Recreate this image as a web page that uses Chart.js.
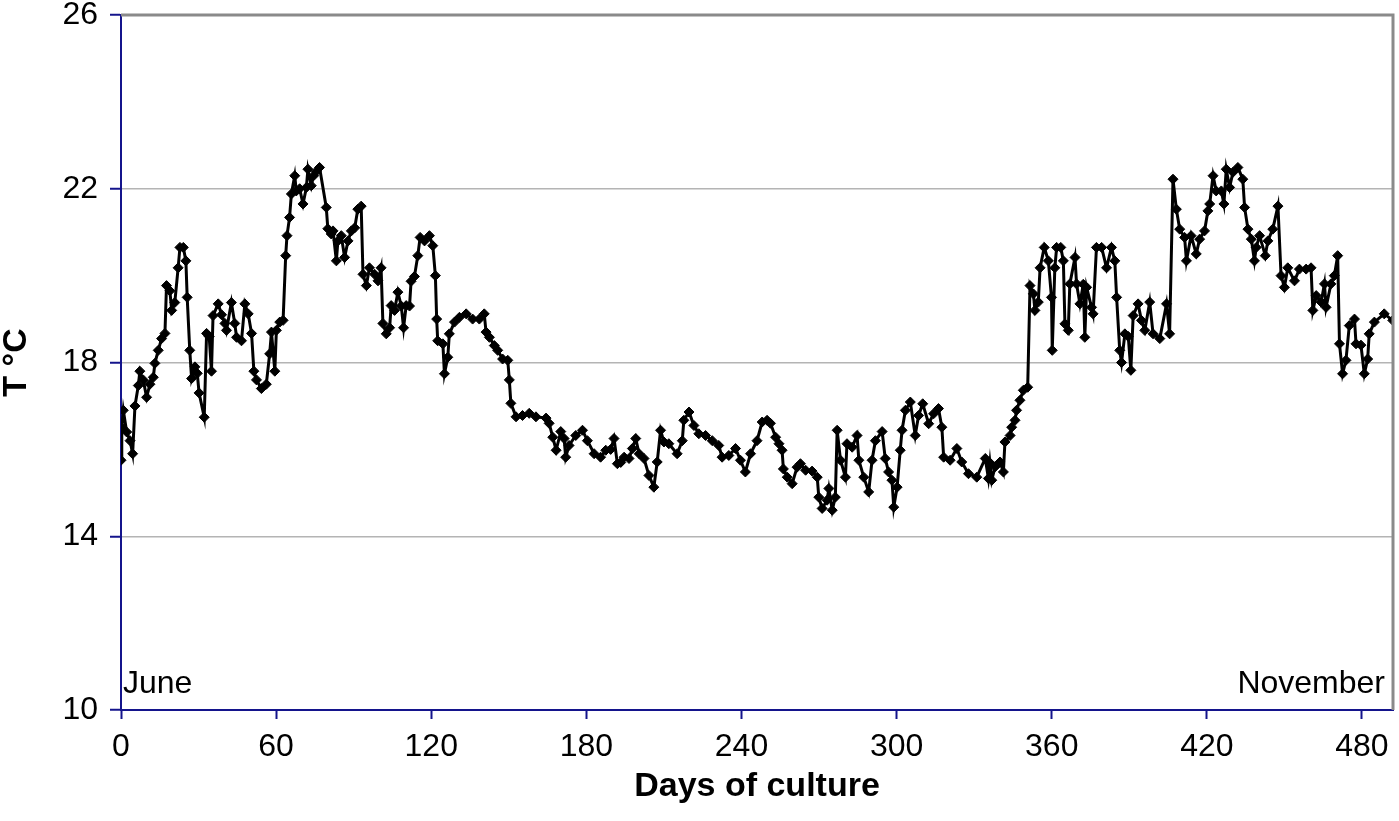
<!DOCTYPE html>
<html>
<head>
<meta charset="utf-8">
<script src="https://cdn.jsdelivr.net/npm/chart.js@4.4.1/dist/chart.umd.min.js"></script>
<style>
  html, body { margin: 0; padding: 0; background: #fff; }
  #wrap { width: 1399px; height: 821px; }
</style>
</head>
<body>
<div id="wrap"><canvas id="tempChart" width="1399" height="821"></canvas></div>
<script>
// days of culture (x) and water temperature in °C (y)
const days = [
  0, 0.3, 0.9, 2.2, 3.5, 4.5, 5.4, 6.7, 7.3, 8.6, 9.9, 11.2, 12.5, 13.1, 14.4, 15.7, 17.0, 17.6, 18.9, 19.6,
  20.8, 22.1, 22.8, 24.1, 25.1, 25.6, 26.6, 27.3, 28.6, 29.5, 30.2, 32.2, 33.1, 34.1, 35.0, 35.6, 37.6, 38.9, 40.2, 40.8,
  42.7, 44.0, 44.7, 46.6, 47.9, 49.2, 50.5, 51.4, 52.4, 54.3, 56.2, 57.5, 58.2, 59.5, 60.1, 61.4, 62.7, 63.7, 64.2, 65.2,
  65.9, 67.2, 67.8, 69.1, 70.4, 71.7, 72.3, 73.6, 74.5, 75.5, 76.8, 79.4, 80.0, 81.3, 82.0, 83.3, 83.9, 85.2, 86.5, 87.8,
  89.1, 90.4, 91.6, 92.9, 93.6, 94.9, 96.1, 98.1, 99.4, 100.6, 101.3, 102.6, 103.9, 104.5, 105.8, 107.1, 108.4, 109.3, 110.3, 111.6,
  112.2, 113.5, 114.8, 115.7, 117.4, 119.3, 120.6, 121.6, 122.1, 122.5, 124.5, 125.1, 126.4, 127.0, 129.0, 130.9, 133.5, 136.0, 138.6, 140.5,
  141.2, 142.5, 144.4, 145.7, 147.6, 149.6, 150.2, 150.8, 152.8, 155.3, 157.9, 160.5, 164.4, 165.6, 167.0, 168.3, 170.1, 171.4, 172.0, 173.3,
  175.9, 178.5, 180.4, 183.0, 185.5, 187.5, 189.4, 190.7, 192.0, 193.3, 194.6, 196.5, 197.8, 199.1, 200.4, 202.3, 204.2, 206.1, 207.4, 208.7,
  210.0, 211.9, 215.1, 217.1, 217.7, 219.7, 221.6, 223.5, 226.1, 228.7, 231.2, 232.5, 235.1, 237.7, 239.6, 241.5, 243.5, 246.0, 248.0, 249.9,
  251.2, 253.2, 254.5, 255.7, 256.2, 257.7, 259.6, 261.5, 262.8, 264.8, 267.3, 269.3, 269.9, 271.2, 273.1, 273.8, 275.1, 276.3, 277.0, 278.3,
  280.2, 280.8, 282.8, 284.7, 285.4, 287.3, 289.2, 290.5, 291.8, 294.4, 295.6, 296.9, 298.2, 298.9, 300.2, 301.4, 302.1, 303.4, 305.3, 307.2,
  308.5, 310.1, 312.4, 314.3, 316.2, 317.5, 318.2, 320.7, 323.3, 325.2, 327.8, 331.0, 334.3, 335.5, 336.1, 336.8, 338.1, 340.0, 341.3, 341.9,
  343.9, 344.5, 345.8, 346.4, 347.7, 349.0, 350.7, 351.6, 352.9, 353.5, 354.8, 355.5, 357.1, 358.7, 359.9, 360.2, 361.2, 361.9, 363.5, 364.5,
  365.1, 366.4, 367.0, 369.0, 369.6, 370.9, 372.2, 372.8, 373.5, 375.4, 376.0, 377.3, 379.3, 381.2, 383.1, 384.4, 385.1, 386.3, 387.0, 388.3,
  389.6, 390.6, 391.5, 393.4, 394.7, 396.0, 397.9, 399.2, 401.8, 404.4, 405.6, 406.9, 408.2, 409.5, 411.4, 412.1, 413.9, 415.9, 417.2, 419.1,
  420.4, 421.1, 422.4, 423.6, 425.6, 426.6, 427.5, 428.8, 430.1, 432.0, 433.9, 434.6, 435.9, 437.2, 438.4, 439.1, 440.4, 442.6, 443.6, 445.5,
  447.5, 448.7, 450.0, 451.3, 453.9, 455.8, 458.4, 460.3, 461.0, 462.3, 464.2, 465.5, 466.1, 468.0, 469.3, 470.6, 471.3, 472.5, 473.8, 475.1,
  477.1, 477.7, 479.6, 480.9, 482.2, 482.8, 484.8, 488.6, 491.9
];
const temps = [
  15.75, 16.5, 16.9, 16.4, 16.2, 15.9, 17.0, 17.47, 17.8, 17.6, 17.2, 17.5, 17.66, 17.98, 18.28, 18.55, 18.67, 19.77, 19.65, 19.2,
  19.38, 20.18, 20.65, 20.65, 20.34, 19.5, 18.28, 17.63, 17.9, 17.75, 17.3, 16.74, 18.67, 18.6, 17.8, 19.08, 19.35, 19.1, 18.9, 18.74,
  19.38, 18.9, 18.58, 18.5, 19.35, 19.12, 18.67, 17.8, 17.6, 17.4, 17.5, 18.2, 18.7, 17.8, 18.74, 18.93, 18.97, 20.46, 20.92, 21.34,
  21.88, 22.3, 21.95, 22.0, 21.65, 22.03, 22.45, 22.07, 22.3, 22.4, 22.49, 21.57, 21.08, 20.96, 21.03, 20.34, 20.8, 20.92, 20.42, 20.8,
  21.03, 21.1, 21.53, 21.6, 20.03, 19.77, 20.18, 20.03, 19.88, 20.18, 18.9, 18.66, 18.8, 19.31, 19.2, 19.62, 19.3, 18.8, 19.31, 19.3,
  19.87, 19.98, 20.46, 20.88, 20.8, 20.92, 20.69, 20.0, 19.0, 18.5, 18.43, 17.74, 18.12, 18.66, 18.93, 19.04, 19.12, 19.0, 19.0, 19.12,
  18.7, 18.58, 18.39, 18.28, 18.08, 18.05, 17.6, 17.06, 16.75, 16.78, 16.83, 16.75, 16.72, 16.6, 16.28, 15.98, 16.41, 16.25, 15.82, 16.09,
  16.32, 16.44, 16.2, 15.9, 15.82, 15.98, 16.0, 16.25, 15.67, 15.7, 15.82, 15.79, 16.02, 16.25, 15.9, 15.79, 15.4, 15.13, 15.71, 16.44,
  16.17, 16.13, 15.9, 16.2, 16.67, 16.86, 16.55, 16.36, 16.32, 16.2, 16.09, 15.82, 15.86, 16.02, 15.75, 15.48, 15.9, 16.2, 16.63, 16.67,
  16.6, 16.28, 16.13, 15.98, 15.55, 15.36, 15.21, 15.59, 15.67, 15.52, 15.5, 15.36, 14.9, 14.64, 14.83, 15.1, 14.6, 14.9, 16.44, 15.75,
  15.36, 16.13, 16.05, 16.32, 15.75, 15.36, 15.02, 15.75, 16.2, 16.41, 15.79, 15.48, 15.29, 14.67, 15.13, 15.98, 16.44, 16.9, 17.09, 16.32,
  16.78, 17.05, 16.59, 16.82, 16.94, 16.51, 15.82, 15.75, 16.02, 15.71, 15.44, 15.36, 15.79, 15.33, 15.69, 15.29, 15.6, 15.71, 15.48, 16.17,
  16.32, 16.51, 16.67, 16.9, 17.13, 17.36, 17.43, 19.77, 19.58, 19.2, 19.39, 20.18, 20.65, 20.34, 19.5, 18.28, 20.18, 20.65, 20.65, 20.34,
  18.89, 18.74, 19.81, 20.42, 19.81, 19.35, 19.8, 18.58, 19.73, 19.27, 19.12, 20.65, 20.65, 20.18, 20.65, 20.34, 19.5, 18.28, 18.0, 18.66,
  18.6, 17.82, 19.08, 19.35, 18.97, 18.74, 19.39, 18.66, 18.55, 19.35, 18.66, 22.22, 21.53, 21.07, 20.88, 20.34, 20.92, 20.5, 20.84, 21.03,
  21.49, 21.65, 22.3, 21.95, 21.95, 21.65, 22.45, 22.03, 22.38, 22.49, 22.22, 21.57, 21.07, 20.84, 20.34, 20.65, 20.92, 20.46, 20.8, 21.07,
  21.6, 20.0, 19.73, 20.18, 19.88, 20.15, 20.15, 20.18, 19.2, 19.54, 19.39, 19.81, 19.27, 19.81, 20.0, 20.46, 18.43, 17.74, 18.05, 18.85,
  19.0, 18.43, 18.4, 17.74, 18.08, 18.66, 18.93, 19.12, 18.97
];
const xTicks = [0, 60, 120, 180, 240, 300, 360, 420, 480];
const xMax = 492;
const yTicks = [10, 14, 18, 22, 26];
const startMonth = 'June';
const endMonth = 'November';

const axisBlue = '#14148c';
const tickFont = { family: 'Liberation Sans, Arial, sans-serif', size: 32 };

// grey frame on top/right plus the month labels in the corners
const framePlugin = {
  id: 'frame',
  afterDraw(chart) {
    const { ctx, chartArea: a } = chart;
    ctx.save();
    ctx.strokeStyle = '#8a8a8a';
    ctx.lineWidth = 3;
    ctx.beginPath();
    ctx.moveTo(a.left, a.top);
    ctx.lineTo(a.right, a.top);
    ctx.lineTo(a.right, a.bottom);
    ctx.stroke();
    ctx.fillStyle = '#000';
    ctx.font = '32px Liberation Sans, Arial, sans-serif';
    ctx.textBaseline = 'alphabetic';
    ctx.textAlign = 'left';
    ctx.fillText(startMonth, a.left + 2, a.bottom - 17);
    ctx.textAlign = 'right';
    ctx.fillText(endMonth, a.right - 8, a.bottom - 17);
    ctx.restore();
  }
};

new Chart(document.getElementById('tempChart'), {
  type: 'line',
  data: {
    datasets: [{
      data: days.map((d, i) => ({ x: d, y: temps[i] })),
      borderColor: '#000',
      borderWidth: 3,
      pointStyle: 'rectRot',
      pointRadius: 5,
      pointBackgroundColor: '#000',
      pointBorderColor: '#000',
      pointBorderWidth: 1,
      tension: 0
    }]
  },
  options: {
    responsive: false,
    animation: false,
    layout: { padding: { top: 15, right: 4, left: 0, bottom: 0 } },
    plugins: { legend: { display: false }, tooltip: { enabled: false } },
    scales: {
      x: {
        type: 'linear',
        min: 0,
        max: xMax,
        ticks: { font: tickFont, color: '#000', padding: 9, maxRotation: 0 },
        afterBuildTicks: scale => { scale.ticks = xTicks.map(v => ({ value: v })); },
        afterFit: scale => {
          scale.height = 111;
          scale.paddingLeft = 0;
          scale.paddingRight = 0;
        },
        grid: { drawOnChartArea: false, drawTicks: true, tickLength: 9, tickColor: axisBlue, tickWidth: 2 },
        border: { color: axisBlue, width: 2 },
        title: {
          display: true,
          text: 'Days of culture',
          color: '#000',
          font: { family: 'Liberation Sans, Arial, sans-serif', size: 34, weight: 'bold' },
          padding: { top: 0, bottom: 14 }
        }
      },
      y: {
        min: yTicks[0],
        max: yTicks[yTicks.length - 1],
        afterBuildTicks: scale => { scale.ticks = yTicks.map(v => ({ value: v })); },
        ticks: { font: tickFont, color: '#000', padding: 12 },
        afterFit: scale => {
          scale.width = 121;
          scale.paddingTop = 0;
          scale.paddingBottom = 0;
        },
        grid: {
          color: c => (c.tick && c.tick.value > yTicks[0] && c.tick.value < yTicks[yTicks.length - 1]) ? '#b4b4b4' : 'rgba(0,0,0,0)',
          lineWidth: 1.5,
          tickLength: 11,
          tickColor: axisBlue,
          tickWidth: 2
        },
        border: { color: axisBlue, width: 2 },
        title: {
          display: true,
          text: 'T °C',
          color: '#000',
          font: { family: 'Liberation Sans, Arial, sans-serif', size: 34, weight: 'bold', lineHeight: 1 },
          padding: { top: 0, bottom: 0 }
        }
      }
    }
  },
  plugins: [framePlugin]
});
</script>
</body>
</html>
